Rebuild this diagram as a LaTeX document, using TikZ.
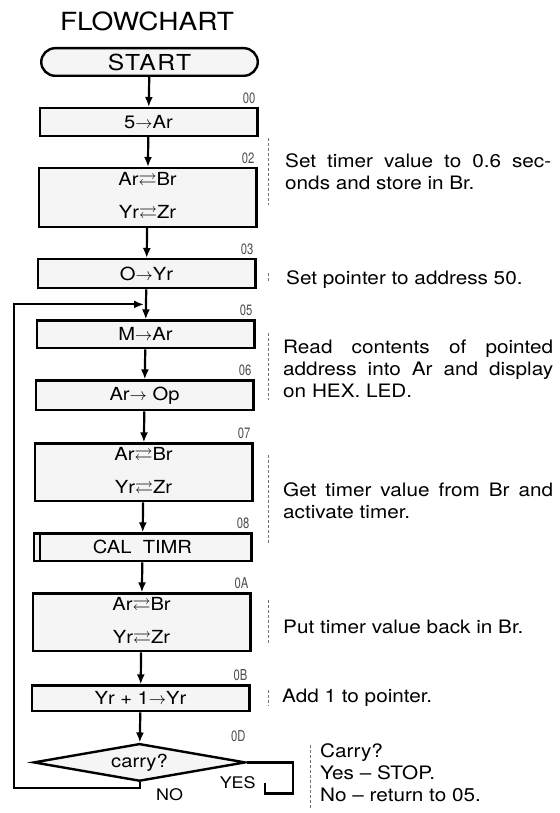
\documentclass[tikz,border=0pt]{standalone}
\usepackage{amssymb}
\usepackage{fontspec}
\setmainfont{TeX Gyre Heros}[FakeStretch=1.12]
\newfontfamily\addrfont{TeX Gyre Heros}[FakeStretch=0.75]
\usetikzlibrary{arrows.meta, positioning, shapes.geometric, calc}
\newcommand{\mv}{$\rightarrow$}
\newcommand{\swp}{$\rightleftarrows$}
\newcommand{\jline}[2][270pt]{\makebox[#1][s]{#2}}

\begin{document}
\begin{tikzpicture}[x=1pt, y=1pt,
  node distance=30pt,
  box/.style={draw, line width=2.4pt, fill=black!4, minimum width=217.6pt,
              minimum height=27.6pt, inner sep=2pt, font=\fontsize{18}{21}\selectfont},
  box2/.style={box, minimum height=57.6pt},
  term/.style={box, rounded corners=14pt, minimum width=216.6pt,
               font=\fontsize{22}{24}\selectfont\addfontfeature{LetterSpace=7}},
  sub/.style={box, path picture={\draw[line width=1.6pt]
              ([xshift=6pt]path picture bounding box.north west) --
              ([xshift=6pt]path picture bounding box.south west);}},
  dec/.style={draw, diamond, aspect=5.4, line width=2.4pt, fill=black!4, inner sep=0pt,
              minimum width=212pt, minimum height=37.6pt, font=\fontsize{18}{20}\selectfont},
  addr/.style={anchor=south east, inner sep=1pt, text=black!70, font=\addrfont\fontsize{15}{16}\selectfont},
  note/.style={anchor=west, align=left, inner xsep=0pt, inner ysep=2pt,
               font=\fontsize{18.5}{22}\selectfont},
  guide/.style={line width=0.7pt, black!55, dash pattern=on 3pt off 2pt},
  arr/.style={-{Latex[length=10pt, width=8pt]}, line width=2.2pt},
  back/.style={arr, line width=2pt},
  yn/.style={font=\fontsize{16}{18}\selectfont, inner sep=1pt}]
  \useasboundingbox (0,0) rectangle (559,-813);

  \node[font=\fontsize{25}{28}\selectfont] (title) at (147,-21) {FLOWCHART};

  % main chain
  \node[term] (start) at (149.5,-62) {START};
  \node[box, below=of start, xshift=-1pt] (b00) {5\mv Ar};
  \node[box2, below=of b00, xshift=-1pt, minimum height=58.6pt, align=center] (b02) {Ar\swp Br\\[12pt]Yr\swp Zr};
  \node[box, below=of b02, xshift=-1pt, minimum height=29pt] (b03) {O\mv Yr};
  \node[box, below=of b03, xshift=-1pt] (b05) {M\mv Ar};
  \node[box, below=of b05, xshift=-1pt, minimum height=29.6pt] (b06) {Ar\mv\ Op};
  \node[box2, below=31pt of b06, xshift=-1pt, align=center] (b07) {Ar\swp Br\\[12pt]Yr\swp Zr};
  \node[sub, below=of b07, xshift=-1pt] (b08) {CAL\ \ TIMR};
  \node[box2, below=of b08, xshift=-1pt, align=center] (b0A) {Ar\swp Br\\[12pt]Yr\swp Zr};
  \node[box, below=32pt of b0A, xshift=-1pt, minimum height=25.6pt] (b0B) {Yr + 1\mv Yr};
  \node[dec, below=of b0B, xshift=-1pt] (dia) {carry?};

  % step numbers
  \foreach \n/\t in {b00/00, b02/02, b03/03, b05/05, b06/06, b07/07, b08/08, b0A/0A, b0B/0B}
    \node[addr] (a\t) at ([xshift=-2pt, yshift=2pt]\n.north east) {\t};
  \node[addr] (a0D) at ([yshift=19pt]dia.east) {0D};

  \coordinate (join) at ($(b03.south)!0.5!(b05.north)$);
  \draw[arr] (start) -- (b00);
  \draw[arr] (b00) -- (b02);
  \draw[arr] (b02) -- (b03);
  \draw[arr] (b03) -- (b05);
  \draw[arr] (b05) -- (b06);
  \draw[arr] (b06) -- (b07);
  \draw[arr] (b07) -- (b08);
  \draw[arr] (b08) -- (b0A);
  \draw[arr] (b0A) -- (b0B);
  \draw[arr] (b0B) -- (dia);

  % NO: back to 05, YES: stop
  \draw[back, shorten >=2pt] (dia.south) -- ++(0,-6) -| ([xshift=-22pt]b05.west |- join) -- (join);
  \node[yn] (no) at ([xshift=30pt, yshift=-12pt]dia.south) {NO};
  \draw[line width=2.2pt] (dia.east) -- ++(46,0) -- ++(0,-31) -- ++(-28,0) -- ++(0,10);
  \node[yn] (yes) at ([xshift=-9pt, yshift=-20pt]dia.east) {YES};

  % comments
  \node[note] (n02) at (285,-171.5) {\jline[266pt]{Set timer value to 0.6 sec-}\\onds and store in Br.};
  \node[note] (n03) at (286,-280) {Set pointer to address 50.};
  \node[note] (n05) at (283,-369) {\jline{Read contents of pointed}\\\jline{address into Ar and display}\\on HEX. LED.};
  \node[note] (n07) at (283,-501) {\jline{Get timer value from Br and}\\activate timer.};
  \node[note] (n0A) at (283,-627) {Put timer value back in Br.};
  \node[note] (n0B) at (282,-698) {Add 1 to pointer.};
  \node[note] (nD) at (320,-773) {Carry?\\Yes -- STOP.\\No -- return to 05.};
  \foreach \n/\d/\t/\b in {n02/17/33.5/33.5, n03/18/7/1, n05/15/36/31, n07/15/46/44,
                          n0A/15/27/18, n0B/14/8/8, nD/10/28/37}
    \draw[guide] ([xshift=-\d pt, yshift=\t pt]\n.west) -- ([xshift=-\d pt, yshift=-\b pt]\n.west);
\end{tikzpicture}
\end{document}
